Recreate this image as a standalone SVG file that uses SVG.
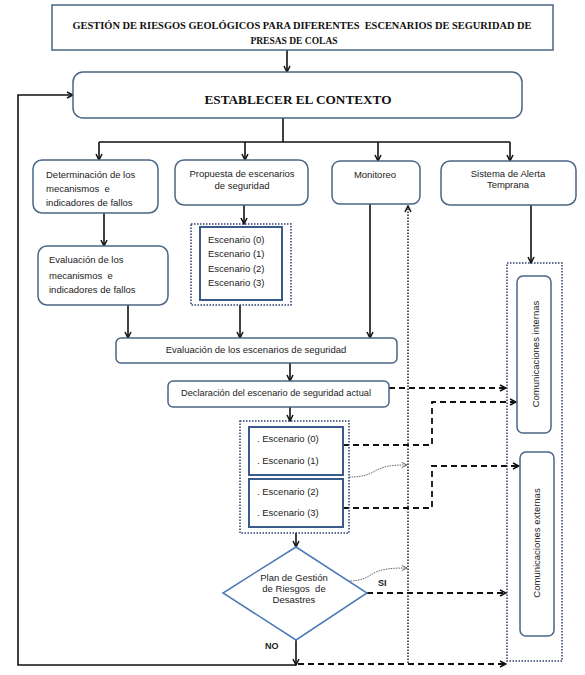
<svg xmlns="http://www.w3.org/2000/svg" width="585" height="675" viewBox="0 0 585 675">
<style>
.bx{fill:#fff;stroke:#4a6584;stroke-width:1.5}
.dot{fill:none;stroke:#2b3f6b;stroke-width:1.5;stroke-dasharray:1.5 1.5}
.inner{fill:#fff;stroke:#3a5a8c;stroke-width:2}
.t{font-family:"Liberation Sans",Arial,sans-serif;font-size:9.5px;fill:#222;white-space:pre}
.ti{font-family:"Liberation Serif","Times New Roman",serif;font-weight:bold;fill:#111;white-space:pre}
.ln{fill:none;stroke:#111;stroke-width:1.6}
.dash{fill:none;stroke:#111;stroke-width:1.8;stroke-dasharray:6 4}
.vdot{fill:none;stroke:#111;stroke-width:1.4;stroke-dasharray:1.5 1.5}
.curv{fill:none;stroke:#666;stroke-width:1;stroke-dasharray:1.5 1}
.lbl{font-family:"Liberation Sans",Arial,sans-serif;font-weight:bold;font-size:9px;fill:#222}
</style>
<defs>
<marker id="ar" viewBox="0 0 8 8" refX="7" refY="4" markerWidth="8" markerHeight="8" orient="auto" markerUnits="userSpaceOnUse">
<path d="M1,1 L7,4 L1,7" fill="none" stroke="#111" stroke-width="1.5"/>
</marker>
<marker id="ag" viewBox="0 0 8 8" refX="7" refY="4" markerWidth="7" markerHeight="7" orient="auto" markerUnits="userSpaceOnUse">
<path d="M1,1 L7,4 L1,7" fill="none" stroke="#555" stroke-width="1"/>
</marker>
</defs>
<rect width="585" height="675" fill="#fff"/>

<g id="connectors">
<path class="ln" d="M287,50 V72" marker-end="url(#ar)"/>
<path class="ln" d="M283,118 V142 M99,142 H510"/>
<path class="ln" d="M99,142 V160" marker-end="url(#ar)"/>
<path class="ln" d="M245,142 V160" marker-end="url(#ar)"/>
<path class="ln" d="M378,142 V161" marker-end="url(#ar)"/>
<path class="ln" d="M510,142 V161" marker-end="url(#ar)"/>
<path class="ln" d="M104,213 V246" marker-end="url(#ar)"/>
<path class="ln" d="M244,205 V224" marker-end="url(#ar)"/>
<path class="ln" d="M128,305 V338" marker-end="url(#ar)"/>
<path class="ln" d="M240,305 V338" marker-end="url(#ar)"/>
<path class="ln" d="M370,204 V338" marker-end="url(#ar)"/>
<path class="ln" d="M290,363 V381" marker-end="url(#ar)"/>
<path class="ln" d="M290,407 V421" marker-end="url(#ar)"/>
<path class="ln" d="M296,533 V547" marker-end="url(#ar)"/>
<path class="ln" d="M296,640 V665" marker-end="url(#ar)"/>
<path class="ln" d="M296,665 H18 V95 H73" marker-end="url(#ar)"/>
<path class="ln" d="M531,205 V263" marker-end="url(#ar)"/>
<path class="vdot" d="M408,663 V206" marker-end="url(#ar)"/>
<path class="dash" d="M389,388 H506" marker-end="url(#ar)"/>
<path class="dash" d="M343,445 H432 V402 H516" marker-end="url(#ar)"/>
<path class="dash" d="M343,508 H432 V466 H519" marker-end="url(#ar)"/>
<path class="dash" d="M367,593 H506" marker-end="url(#ar)"/>
<path class="dash" d="M298,664 H506" marker-end="url(#ar)"/>
<path class="curv" d="M349,477 C368,477 372,472 379,469 C388,465 398,465 407,465" marker-end="url(#ag)"/>
<path class="curv" d="M348,581 C364,581 368,576 376,572 C386,568 397,568 407,568" marker-end="url(#ag)"/>
</g>

<g id="title">
<rect x="52" y="5" width="501" height="45" fill="#fff" stroke="#4a6584" stroke-width="1.5"/>
<text class="ti" x="302" y="29" font-size="9.5px" text-anchor="middle" textLength="459" lengthAdjust="spacingAndGlyphs">GESTIÓN DE RIESGOS GEOLÓGICOS PARA DIFERENTES  ESCENARIOS DE SEGURIDAD DE</text>
<text class="ti" x="294" y="44" font-size="9.5px" text-anchor="middle">PRESAS DE COLAS</text>
</g>

<g id="contexto">
<rect class="bx" x="73" y="72" width="449" height="46" rx="10"/>
<text class="ti" x="298" y="104" font-size="13px" text-anchor="middle" textLength="187" lengthAdjust="spacingAndGlyphs">ESTABLECER EL CONTEXTO</text>
</g>

<g id="determinacion">
<rect class="bx" x="33" y="160" width="125" height="53" rx="9"/>
<text class="t" x="46" y="178">Determinación de los</text>
<text class="t" x="46" y="192">mecanismos  e</text>
<text class="t" x="46" y="206">indicadores de fallos</text>
</g>

<g id="evaluacion-mecanismos">
<rect class="bx" x="38" y="246" width="130" height="59" rx="9"/>
<text class="t" x="49" y="263">Evaluación de los</text>
<text class="t" x="49" y="279">mecanismos  e</text>
<text class="t" x="49" y="293">indicadores de fallos</text>
</g>

<g id="propuesta">
<rect class="bx" x="175" y="160" width="133" height="45" rx="9"/>
<text class="t" x="242" y="177" text-anchor="middle">Propuesta de escenarios</text>
<text class="t" x="242" y="189" text-anchor="middle">de seguridad</text>
</g>

<g id="escenarios">
<rect class="dot" x="191" y="224" width="100" height="81"/>
<rect class="inner" x="200" y="227" width="82" height="73"/>
<text class="t" x="208" y="243">Escenario (0)</text>
<text class="t" x="208" y="257">Escenario (1)</text>
<text class="t" x="208" y="272">Escenario (2)</text>
<text class="t" x="208" y="286">Escenario (3)</text>
</g>

<g id="monitoreo">
<rect class="bx" x="332" y="161" width="88" height="43" rx="8"/>
<text class="t" x="375" y="178" text-anchor="middle">Monitoreo</text>
</g>

<g id="alerta">
<rect class="bx" x="441" y="161" width="135" height="44" rx="9"/>
<text class="t" x="508" y="177" text-anchor="middle">Sistema de Alerta</text>
<text class="t" x="508" y="188" text-anchor="middle">Temprana</text>
</g>

<g id="evaluacion-escenarios">
<rect class="bx" x="116" y="338" width="281" height="25" rx="5"/>
<text class="t" x="256" y="353" text-anchor="middle">Evaluación de los escenarios de seguridad</text>
</g>

<g id="declaracion">
<rect class="bx" x="168" y="381" width="221" height="26" rx="5"/>
<text class="t" x="276" y="396" text-anchor="middle" textLength="190" lengthAdjust="spacingAndGlyphs">Declaración del escenario de seguridad actual</text>
</g>

<g id="escenario-actual">
<rect class="dot" x="240" y="421" width="109" height="112"/>
<rect class="inner" x="249" y="427" width="94" height="48"/>
<rect class="inner" x="249" y="479" width="94" height="48"/>
<text class="t" x="257" y="442">. Escenario (0)</text>
<text class="t" x="257" y="464">. Escenario (1)</text>
<text class="t" x="257" y="495">. Escenario (2)</text>
<text class="t" x="257" y="516">. Escenario (3)</text>
</g>

<g id="plan">
<polygon points="296,547 367,593 296,640 223,593" fill="#fff" stroke="#4f7bb5" stroke-width="1.5"/>
<text class="t" x="294" y="581" font-size="7px" text-anchor="middle">Plan de Gestión</text>
<text class="t" x="294" y="592" font-size="7px" text-anchor="middle">de Riesgos  de</text>
<text class="t" x="294" y="603" font-size="7px" text-anchor="middle">Desastres</text>
</g>
<text class="lbl" x="378" y="586">SI</text>
<text class="lbl" x="265" y="649">NO</text>

<g id="comunicaciones">
<rect class="dot" x="507" y="263" width="55" height="398"/>
</g>
<g id="com-internas">
<rect class="bx" x="517" y="276" width="34" height="157" rx="6"/>
<text class="t" transform="translate(539,354) rotate(-90)" text-anchor="middle" font-size="9px">Comunicaciones internas</text>
</g>
<g id="com-externas">
<rect class="bx" x="520" y="452" width="34" height="184" rx="6"/>
<text class="t" transform="translate(540,543) rotate(-90)" text-anchor="middle" font-size="9px">Comunicaciones externas</text>
</g>
</svg>
